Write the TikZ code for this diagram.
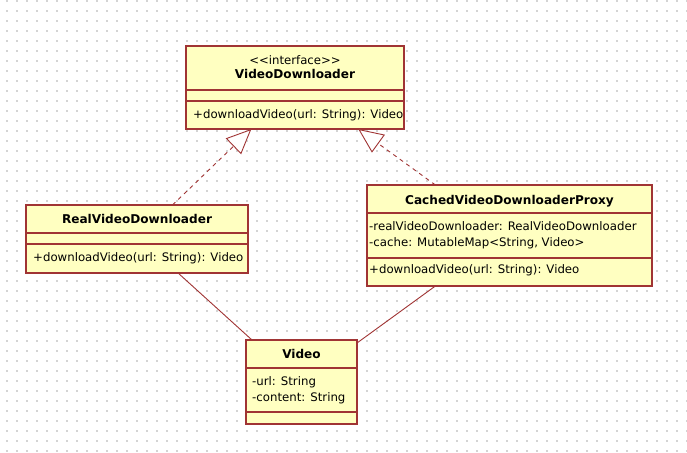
\documentclass[tikz,border=0pt]{standalone}
\usepackage{fontspec}
\setmainfont{DejaVu Sans}
\usetikzlibrary{calc,arrows.meta}
\definecolor{umlborder}{RGB}{160,52,52}
\definecolor{umlfill}{RGB}{255,255,193}
\definecolor{griddot}{RGB}{212,212,212}

\begin{document}
\begin{tikzpicture}[x=1pt,y=-1pt,
  classbox/.style={draw=umlborder,fill=umlfill,line width=1.5pt,anchor=north west,inner sep=0pt,outer sep=0pt},
  divider/.style={draw=umlborder,line width=1.2pt},
  cstereo/.style={font=\fontsize{11.7}{14}\selectfont,anchor=mid,inner sep=0pt},
  cname/.style={font=\fontsize{12.1}{14}\selectfont\bfseries,anchor=mid,inner sep=0pt},
  member/.style={font=\fontsize{11.75}{14}\selectfont,anchor=mid west,inner sep=0pt},
  realizes/.style={draw=umlborder,line width=0.9pt,dash pattern=on 4pt off 4pt,
    -{Triangle[open,length=25pt,width=22pt,line width=0.9pt,fill=white]}},
  assoc/.style={draw=umlborder,line width=0.9pt}]
  % Lienzo (en px)
  \def\canvasw{687}
  \def\canvash{452}
  \fill[white] (0,0) rectangle (\canvasw,\canvash);
  \useasboundingbox (0,0) rectangle (\canvasw,\canvash);

  % Rejilla de puntos
  \foreach \i in {0,...,68} {
    \foreach \j in {0,...,45} {
      \fill[griddot] (6.4+10*\i,0.4+10*\j) rectangle ++(1.3,1.3);
    }
  }

  % Clases
  \node[classbox,minimum width=218pt,minimum height=83pt] (iface) at (186,46) {};
  \node[classbox,minimum width=222pt,minimum height=68pt] (real) at (26,205) {};
  \node[classbox,minimum width=285pt,minimum height=101pt] (cached) at (367,185) {};
  \node[classbox,minimum width=111pt,minimum height=84pt] (video) at (246,340) {};

  % Compartimentos
  \foreach \n/\a/\b in {iface/44/55, real/28/39, cached/28/73, video/28/72} {
    \draw[divider] ($(\n.north west)+(0,\a)$) -- ($(\n.north east)+(0,\a)$);
    \draw[divider] ($(\n.north west)+(0,\b)$) -- ($(\n.north east)+(0,\b)$);
  }

  % Textos de VideoDownloader
  \node[cstereo] (ifacestereo) at (295,62) {{<}{<}interface{>}{>}};
  \node[cname] (ifacename) at (295,76) {VideoDownloader};
  \node[member] (ifaceop) at (193,116) {+downloadVideo(url: String): Video};

  % Textos de RealVideoDownloader
  \node[cname] (realname) at (137,221) {RealVideoDownloader};
  \node[member] (realop) at (33,259) {+downloadVideo(url: String): Video};

  % Textos de CachedVideoDownloaderProxy
  \node[cname] (cachedname) at (509.5,202) {CachedVideoDownloaderProxy};
  \node[member] (cachedatt1) at (369,228) {-realVideoDownloader: RealVideoDownloader};
  \node[member] (cachedatt2) at (369,244) {-cache: MutableMap{<}String, Video{>}};
  \node[member] (cachedop) at (369,271) {+downloadVideo(url: String): Video};

  % Textos de Video
  \node[cname] (videoname) at (301.5,356) {Video};
  \node[member] (videoatt1) at (252,383) {-url: String};
  \node[member] (videoatt2) at (252,399) {-content: String};

  % Realizaciones
  \draw[realizes] ($(real.north west)!0.66!(real.north east)$) -- ($(iface.south west)!0.30!(iface.south east)$);
  \draw[realizes] ($(cached.north west)!0.24!(cached.north east)$) -- ($(iface.south west)!0.79!(iface.south east)$);

  % Asociaciones con Video
  \draw[assoc] ($(real.south west)!0.685!(real.south east)$) -- ($(video.north west)!0.054!(video.north east)$);
  \draw[assoc] ($(cached.south west)!0.24!(cached.south east)$) -- ($(video.north east)+(0,3)$);
\end{tikzpicture}
\end{document}
